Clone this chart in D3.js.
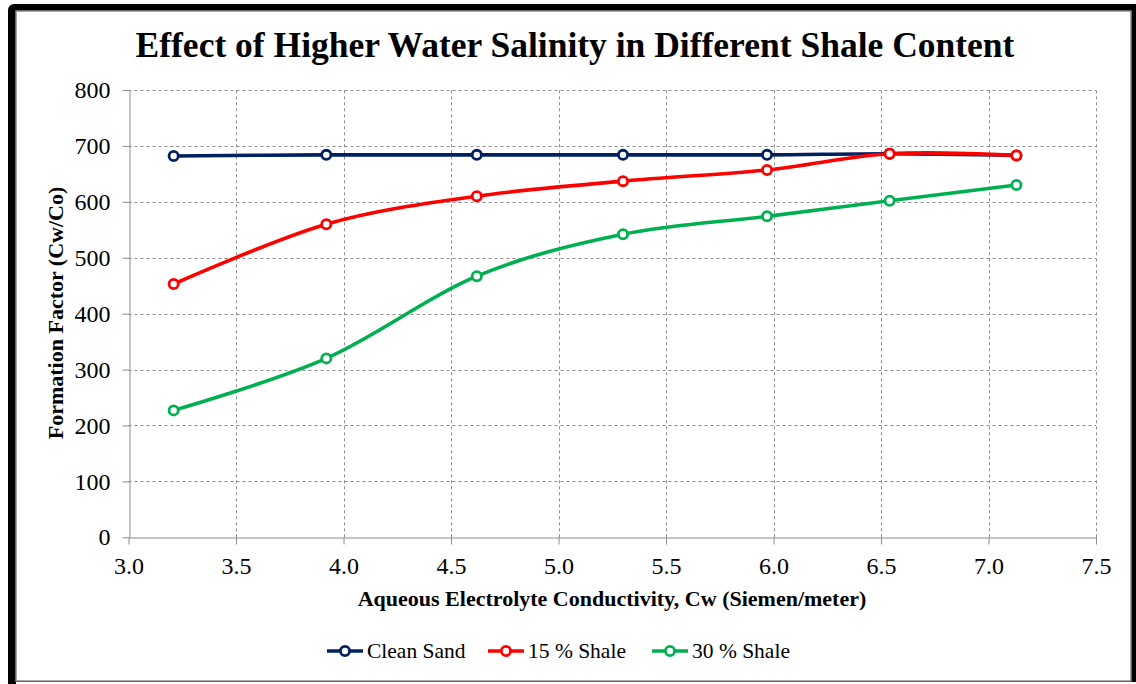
<!DOCTYPE html>
<html>
<head>
<meta charset="utf-8">
<script src="https://cdn.jsdelivr.net/npm/d3@7"></script>
<style>
  html, body { margin: 0; padding: 0; background: #fff; }
  svg { display: block; }
  text { font-family: "Liberation Serif", "DejaVu Serif", serif; fill: #000; }
</style>
</head>
<body>
<svg id="chart" width="1136" height="684"></svg>
<script>
// Conductivity of the brine (Siemen/meter)
const conductivity = [3.21, 3.92, 4.62, 5.30, 5.97, 6.54, 7.13];

// Formation factor for each shale content
const cleanSand = [682, 684, 684, 684, 684, 686, 683];
const shale15   = [453, 560, 610, 637, 657, 686, 683];
const shale30   = [227, 320, 467, 542, 574, 602, 630];

const seriesNames  = ["Clean Sand", "15 % Shale", "30 % Shale"];
const seriesColors = ["#002060", "#FF0000", "#00B050"];
const seriesValues = [cleanSand, shale15, shale30];

const xTicks = [3.0, 3.5, 4.0, 4.5, 5.0, 5.5, 6.0, 6.5, 7.0, 7.5];
const yTicks = [0, 100, 200, 300, 400, 500, 600, 700, 800];

const titleText = "Effect of Higher Water Salinity in Different Shale Content";
const xTitle = "Aqueous Electrolyte Conductivity, Cw (Siemen/meter)";
const yTitle = "Formation Factor (Cw/Co)";

const svg = d3.select("#chart");

// Frame: heavy black border with a thin grey inner outline
svg.append("rect").attr("x", 8).attr("y", 4).attr("width", 1140).attr("height", 700)
  .attr("rx", 6).attr("fill", "#000");
svg.append("rect").attr("x", 16).attr("y", 11).attr("width", 1115).attr("height", 670)
  .attr("fill", "#fff").attr("stroke", "#8a8a8a").attr("stroke-width", 1.5);
svg.append("rect").attr("x", 16).attr("y", 682).attr("width", 1120).attr("height", 4).attr("fill", "#fff");

const x = d3.scaleLinear().domain([3.0, 7.5]).range([128.5, 1096]);
const y = d3.scaleLinear().domain([0, 800]).range([537.3, 90]);

// Gridlines
const grid = svg.append("g");
grid.selectAll("line.h").data(yTicks.filter(v => v > 0)).join("line")
  .attr("x1", x(3.0)).attr("x2", x(7.5))
  .attr("y1", d => Math.round(y(d)) + 0.5).attr("y2", d => Math.round(y(d)) + 0.5)
  .attr("stroke", "#8c8c8c").attr("stroke-width", 1).attr("stroke-dasharray", "3,3");
grid.selectAll("line.v").data(xTicks.filter(v => v > 3.0)).join("line")
  .attr("x1", d => Math.round(x(d)) + 0.5).attr("x2", d => Math.round(x(d)) + 0.5)
  .attr("y1", y(0)).attr("y2", y(800))
  .attr("stroke", "#8c8c8c").attr("stroke-width", 1).attr("stroke-dasharray", "3,3");

// Axes
const xAxis = d3.axisBottom(x).tickValues(xTicks).tickFormat(d3.format(".1f"))
  .tickSizeInner(7).tickSizeOuter(0).tickPadding(12);
const yAxis = d3.axisLeft(y).tickValues(yTicks).tickFormat(d3.format("d"))
  .tickSizeInner(7).tickSizeOuter(0).tickPadding(12);

const gx = svg.append("g").attr("transform", `translate(0,${Math.round(y(0)) + 0.5})`).call(xAxis);
const gy = svg.append("g").attr("transform", `translate(${Math.round(x(3.0)) + 0.5},0)`).call(yAxis);
[gx, gy].forEach(g => {
  g.select(".domain").attr("stroke", "#8c8c8c").attr("stroke-width", 1);
  g.selectAll(".tick line").attr("stroke", "#8c8c8c");
  g.selectAll(".tick text").attr("font-family", "Liberation Serif, serif")
    .attr("font-size", 24).attr("fill", "#000");
});

// Series lines with markers
const line = d3.line().x((d, i) => x(conductivity[i])).y(d => y(d))
  .curve(d3.curveCardinal.tension(0));

seriesValues.forEach((vals, s) => {
  svg.append("path").datum(vals).attr("d", line)
    .attr("fill", "none").attr("stroke", seriesColors[s])
    .attr("stroke-width", 3.6).attr("stroke-linejoin", "round");
});
seriesValues.forEach((vals, s) => {
  svg.append("g").selectAll("circle").data(vals).join("circle")
    .attr("cx", (d, i) => x(conductivity[i])).attr("cy", d => y(d)).attr("r", 4.6)
    .attr("fill", "#fff").attr("stroke", seriesColors[s]).attr("stroke-width", 2.8);
});

// Titles
svg.append("text").attr("x", 575).attr("y", 57).attr("text-anchor", "middle")
  .attr("font-weight", "bold").attr("font-size", 35.5).text(titleText);
svg.append("text").attr("x", 612).attr("y", 606).attr("text-anchor", "middle")
  .attr("font-weight", "bold").attr("font-size", 22).text(xTitle);
svg.append("text").attr("transform", "translate(63,313) rotate(-90)").attr("text-anchor", "middle")
  .attr("font-weight", "bold").attr("font-size", 22).text(yTitle);

// Legend
const legendX = [327, 488, 652];
const lg = svg.append("g").selectAll("g").data(seriesNames).join("g")
  .attr("transform", (d, i) => `translate(${legendX[i]},651)`);
lg.append("line").attr("x1", 0).attr("x2", 36).attr("y1", 0).attr("y2", 0)
  .attr("stroke", (d, i) => seriesColors[i]).attr("stroke-width", 3.6);
lg.append("circle").attr("cx", 18).attr("cy", 0).attr("r", 4.6)
  .attr("fill", "#fff").attr("stroke", (d, i) => seriesColors[i]).attr("stroke-width", 2.8);
lg.append("text").attr("x", 40).attr("y", 7).attr("font-size", 21.5).text(d => d);
</script>
</body>
</html>
